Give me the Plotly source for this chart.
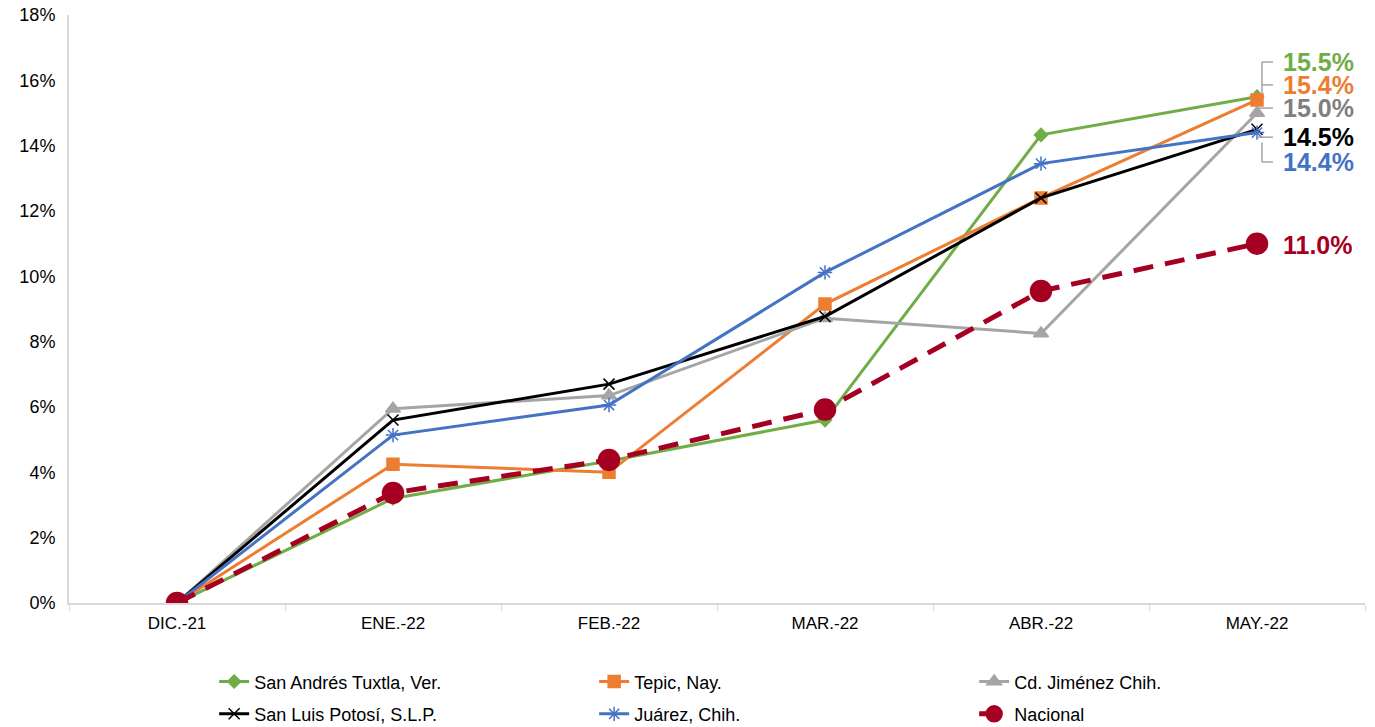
import plotly.graph_objects as go

categories = ["DIC.-21", "ENE.-22", "FEB.-22", "MAR.-22", "ABR.-22", "MAY.-22"]
san_andres = [0.0, 3.2, 4.35, 5.6, 14.33, 15.5]
tepic = [0.0, 4.25, 4.0, 9.15, 12.4, 15.4]
jimenez = [0.0, 5.95, 6.35, 8.72, 8.25, 15.0]
slp = [0.0, 5.6, 6.7, 8.77, 12.4, 14.5]
juarez = [0.0, 5.14, 6.06, 10.12, 13.45, 14.4]
nacional = [0.0, 3.37, 4.38, 5.92, 9.55, 11.0]
y_ticks = [0, 2, 4, 6, 8, 10, 12, 14, 16, 18]
# label positions (spread apart) for end labels
label_y = [16.56, 15.86, 15.15, 14.26, 13.5, 10.96]

series = [
    ("San Andrés Tuxtla, Ver.", san_andres, "#70AD47", "diamond", 10, "solid", 3, "#70AD47", "legend"),
    ("Tepic, Nay.", tepic, "#ED7D31", "square", 12, "solid", 3, "#ED7D31", "legend"),
    ("Cd. Jiménez Chih.", jimenez, "#A5A5A5", "triangle-up", 13, "solid", 3, "#7F7F7F", "legend"),
    ("San Luis Potosí, S.L.P.", slp, "#000000", "x-thin-open", 11, "solid", 3, "#000000", "legend2"),
    ("Juárez, Chih.", juarez, "#4472C4", "asterisk-open", 12, "solid", 3, "#4472C4", "legend2"),
    ("Nacional", nacional, "#A50021", "circle", 21, "20px,12px", 5, "#A50021", "legend2"),
]

fig = go.Figure()
for name, vals, color, sym, size, dash, width, lcol, leg in series:
    fig.add_trace(go.Scatter(
        x=categories, y=vals, name=name, mode="lines+markers", legend=leg,
        line=dict(color=color, width=width, dash=dash),
        marker=dict(symbol=sym, size=size, color=color,
                    line=dict(color=color, width=1.5)),
    ))

annotations = []
for s, ly in zip(series, label_y):
    vals, lcol = s[1], s[7]
    annotations.append(dict(
        x=5, y=ly, xref="x", yref="y", text=f"<b>{vals[-1]:.1f}%</b>",
        showarrow=False, xanchor="left", yanchor="middle", xshift=24,
        font=dict(family="Liberation Sans, Arial", size=25, color=lcol),
    ))

# leader lines (bracket) for the spread labels
lc = dict(color="#A5A5A5", width=1.5)
x0, x1 = 5.023, 5.074
shapes = [
    dict(type="line", xref="x", yref="y", x0=x0, x1=x1, y0=label_y[0], y1=label_y[0], line=lc),
    dict(type="line", xref="x", yref="y", x0=x0, x1=x0, y0=label_y[0], y1=15.6, line=lc),
    dict(type="line", xref="x", yref="y", x0=x0, x1=x1, y0=label_y[1], y1=label_y[1], line=lc),
    dict(type="line", xref="x", yref="y", x0=5.0, x1=x1, y0=label_y[2], y1=label_y[2], line=lc),
    dict(type="line", xref="x", yref="y", x0=x0, x1=x0, y0=14.1, y1=label_y[4], line=lc),
    dict(type="line", xref="x", yref="y", x0=5.0, x1=x1, y0=label_y[3], y1=label_y[3], line=lc),
    dict(type="line", xref="x", yref="y", x0=x0, x1=x1, y0=label_y[4], y1=label_y[4], line=lc),
]

leg_common = dict(orientation="h", xanchor="left", yanchor="middle",
                  entrywidth=335, entrywidthmode="pixels",
                  font=dict(size=18, color="#000000"), bgcolor="rgba(0,0,0,0)")

fig.update_layout(
    width=1375, height=727,
    margin=dict(l=61, r=18, t=7, b=132, autoexpand=False),
    paper_bgcolor="white", plot_bgcolor="white",
    font=dict(family="Liberation Sans, Arial", size=18, color="#000000"),
    showlegend=True,
    legend=dict(x=0.112, y=-0.134, **leg_common),
    legend2=dict(x=0.112, y=-0.189, **leg_common),
    annotations=annotations,
    shapes=shapes,
)
fig.update_xaxes(
    type="category", range=[-0.5, 5.5], showgrid=False,
    showline=True, linecolor="#D9D9D9", linewidth=2,
    ticks="outside", tickson="boundaries", ticklen=6, tickcolor="#D9D9D9",
    tickfont=dict(size=17, color="#000000"), ticklabelstandoff=4,
)
fig.update_yaxes(
    range=[0, 18], tickvals=y_ticks, ticktext=[f"{v}%" for v in y_ticks],
    showgrid=False, zeroline=False,
    showline=True, linecolor="#D9D9D9", linewidth=2,
    ticks="", ticklabelstandoff=8, ticklabeloverflow="allow",
    tickfont=dict(size=18, color="#000000"),
)

fig.write_html("out.html")
